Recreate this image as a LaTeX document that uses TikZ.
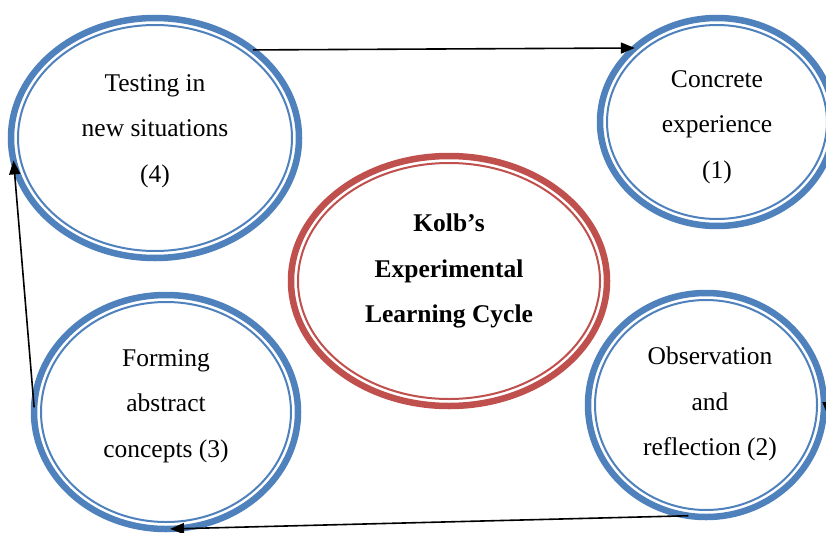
\documentclass[tikz,border=0pt]{standalone}
\usepackage{fontspec}
\setmainfont{Liberation Serif}
\usetikzlibrary{shapes.geometric,arrows.meta,calc}
\definecolor{ringblue}{HTML}{4F81BD}
\definecolor{ringred}{HTML}{C0504D}
\begin{document}
\begin{tikzpicture}[x=1pt,y=-1pt,
  ring/.style={ellipse, draw=#1, line width=6.5pt, inner sep=0pt, outer sep=0pt},
  innerring/.style={draw=#1, line width=2pt},
  stage/.style={align=center, font=\fontsize{25.5}{45.5}\selectfont},
  link/.style={draw=black, line width=1.6pt, -{Triangle[length=14pt,width=11pt]}}
]
\useasboundingbox (0,0) rectangle (826,532);
\fill[white] (0,0) rectangle (826,532);

% outer thick rings
\node[ring=ringblue, minimum width=288pt, minimum height=240pt] (e4) at (155,138) {};
\node[ring=ringblue, minimum width=234pt, minimum height=208pt] (e1) at (717,122) {};
\node[ring=ringblue, minimum width=264pt, minimum height=234pt] (e3) at (166,412) {};
\node[ring=ringblue, minimum width=236pt, minimum height=224pt] (e2) at (706,405) {};
\node[ring=ringred,  minimum width=316pt, minimum height=250pt] (ek) at (449,281) {};

% thin inner rings
\draw[innerring=ringblue] (e4.center) ellipse [x radius=137pt, y radius=113pt];
\draw[innerring=ringblue] (e1.center) ellipse [x radius=110pt, y radius=97pt];
\draw[innerring=ringblue] (e3.center) ellipse [x radius=125pt, y radius=110pt];
\draw[innerring=ringblue] (e2.center) ellipse [x radius=111pt, y radius=105pt];
\draw[innerring=ringred]  (ek.center) ellipse [x radius=151pt, y radius=118pt];

% labels
\node[stage] (t4) at (155,131) {Testing in\\new situations\\(4)};
\node[stage] (t1) at (717,127) {Concrete\\experience\\(1)};
\node[stage] (t3) at (166,406) {Forming\\abstract\\concepts (3)};
\node[stage] (t2) at (710,404) {Observation\\and\\reflection (2)};
\node[stage, font=\fontsize{25.5}{45.5}\selectfont\bfseries] (tk) at (449,271)
  {Kolb’s\\Experimental\\Learning Cycle};

% cycle arrows
\draw[link] (e4.42.65) -- (e1.138.8);
\draw[link] (e2.261.6) -- (e3.272.5);
\draw[link] (e3.178.2) -- (e4.189.8);
\coordinate (rtip) at (828,416);
\draw[link] (e1.-17.8) -- (rtip);
\end{tikzpicture}
\end{document}
